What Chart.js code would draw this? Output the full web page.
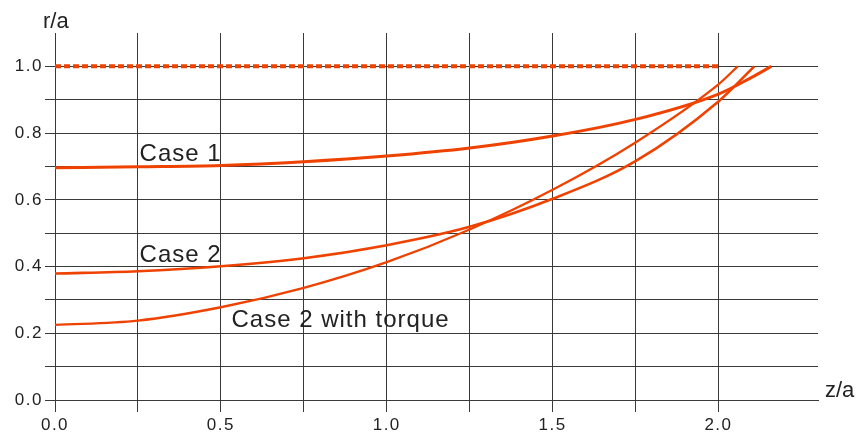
<!DOCTYPE html>
<html><head><meta charset="utf-8">
<script src="https://cdn.jsdelivr.net/npm/chart.js@4.4.0/dist/chart.umd.min.js"></script>
<style>html,body{margin:0;padding:0;background:#fff;}#wrap{width:859px;height:440px;position:relative;}</style>
</head><body><div id="wrap"><canvas id="c"></canvas></div>
<script>
// Data
const case1Z = [0, 0.25, 0.5, 0.75, 1.0, 1.25, 1.5, 1.75, 2.0, 2.1, 2.159];
const case1R = [0.696, 0.699, 0.703, 0.714, 0.731, 0.755, 0.791, 0.841, 0.917, 0.967, 1.0];
const case2Z = [0, 0.25, 0.5, 0.75, 1.0, 1.25, 1.5, 1.75, 2.0, 2.108];
const case2R = [0.379, 0.386, 0.401, 0.425, 0.464, 0.519, 0.603, 0.716, 0.895, 1.0];
const torqueZ = [0, 0.25, 0.5, 0.75, 1.0, 1.25, 1.5, 1.75, 2.0, 2.058];
const torqueR = [0.225, 0.238, 0.278, 0.336, 0.413, 0.511, 0.630, 0.772, 0.946, 1.0];
const limitZ = [0, 2.0];
const limitR = [1.0, 1.0];
const seriesNames = ['Case 1', 'Case 2', 'Case 2 with torque'];
const xTickLabels = ['0.0', '0.5', '1.0', '1.5', '2.0'];
const yTickLabels = ['0.0', '0.2', '0.4', '0.6', '0.8', '1.0'];
const xTitle = 'z/a', yTitle = 'r/a';

const RED = '#ef4200';
const GRID = '#3a3a3a';
const TEXT = '#222222';
const toPts = (zs, rs) => zs.map((z, i) => ({x: z, y: rs[i]}));

const spacingPlugin = {
  id: 'spacing',
  beforeDraw(chart) { chart.ctx.letterSpacing = '1.5px'; }
};

const annot = {
  id: 'annot',
  afterDraw(chart, args, opts) {
    const ctx = chart.ctx, xs = chart.scales.x, ys = chart.scales.y;
    ctx.save();
    ctx.fillStyle = TEXT;
    ctx.textAlign = 'left';
    ctx.textBaseline = 'alphabetic';
    ctx.letterSpacing = '1px';
    ctx.font = '24px "Liberation Sans", Arial, sans-serif';
    opts.labels.forEach(l => {
      ctx.fillText(l.text, xs.getPixelForValue(l.z), ys.getPixelForValue(l.r));
    });
    ctx.font = '22px "Liberation Sans", Arial, sans-serif';
    ctx.letterSpacing = '0px';
    ctx.fillText(yTitle, 43, 28);
    ctx.fillText(xTitle, 825, 397);
    ctx.restore();
  }
};

new Chart(document.getElementById('c'), {
  type: 'line',
  data: {
    datasets: [
      {label: 'limit', data: toPts(limitZ, limitR), borderColor: RED, borderWidth: 4, borderDash: [6, 3], pointRadius: 0, fill: false},
      {label: seriesNames[0], data: toPts(case1Z, case1R), borderColor: RED, borderWidth: 3, pointRadius: 0, cubicInterpolationMode: 'monotone', fill: false},
      {label: seriesNames[1], data: toPts(case2Z, case2R), borderColor: RED, borderWidth: 2.6, pointRadius: 0, cubicInterpolationMode: 'monotone', fill: false},
      {label: seriesNames[2], data: toPts(torqueZ, torqueR), borderColor: RED, borderWidth: 2.3, pointRadius: 0, cubicInterpolationMode: 'monotone', fill: false}
    ]
  },
  options: {
    responsive: true,
    maintainAspectRatio: false,
    animation: false,
    layout: {padding: {left: 0, top: 33, right: 41, bottom: 0}},
    plugins: {
      legend: {display: false},
      tooltip: {enabled: false},
      annot: {labels: [
        {text: seriesNames[0], z: 0.255, r: 0.716},
        {text: seriesNames[1], z: 0.255, r: 0.414},
        {text: seriesNames[2], z: 0.532, r: 0.218}
      ]}
    },
    scales: {
      x: {
        type: 'linear', min: 0, max: 2.3,
        afterFit(s) { s.height = 40; },
        grid: {
          color: c => (c.tick && c.tick.value > 2.26) ? 'rgba(0,0,0,0)' : GRID,
          lineWidth: 1, tickLength: 12, drawTicks: true
        },
        border: {display: true, color: GRID, width: 1},
        ticks: {
          stepSize: 0.25, autoSkip: false, maxRotation: 0, padding: 3,
          color: TEXT, font: {family: '"Liberation Sans", Arial, sans-serif', size: 17},
          callback: v => { const s = Number(v).toFixed(1); return (Math.abs(v * 2 - Math.round(v * 2)) < 1e-6 && xTickLabels.includes(s)) ? s : ''; }
        }
      },
      y: {
        type: 'linear', min: 0, max: 1.1,
        afterFit(s) { s.width = 55; },
        grid: {
          color: c => (c.tick && c.tick.value > 1.05) ? 'rgba(0,0,0,0)' : GRID,
          lineWidth: 1, tickLength: 10, drawTicks: true
        },
        border: {display: true, color: GRID, width: 1},
        ticks: {
          stepSize: 0.1, autoSkip: false, padding: 2,
          color: TEXT, font: {family: '"Liberation Sans", Arial, sans-serif', size: 17},
          callback: v => { const s = Number(v).toFixed(1); return (Math.abs(v * 5 - Math.round(v * 5)) < 1e-6 && yTickLabels.includes(s)) ? s : ''; }
        }
      }
    }
  },
  plugins: [spacingPlugin, annot]
});
</script>
</body></html>
